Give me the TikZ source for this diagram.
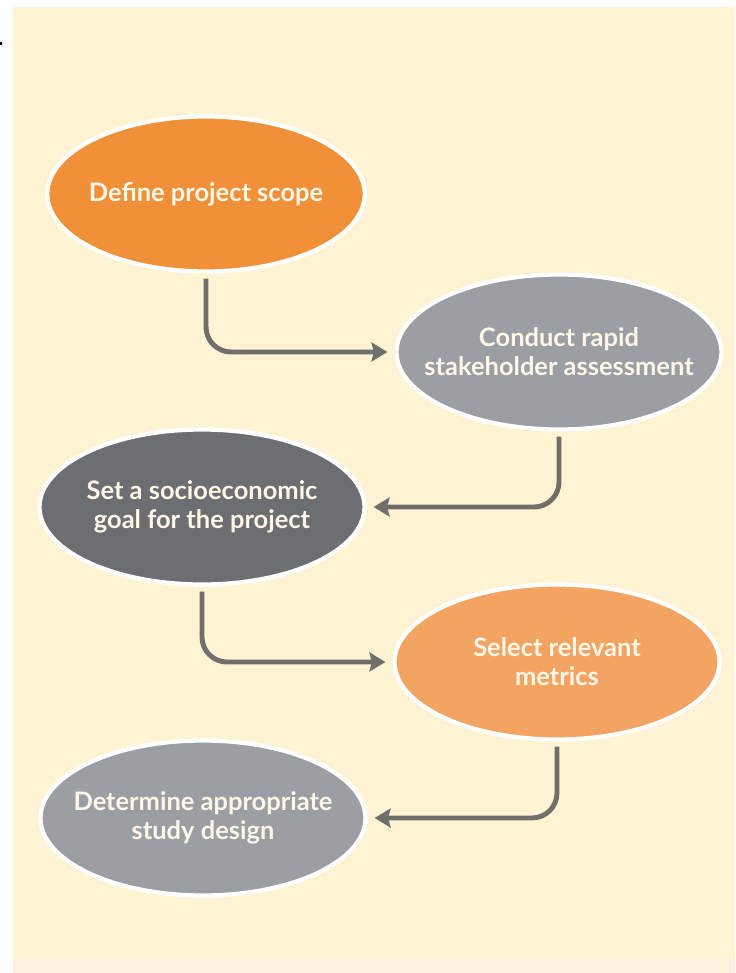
\documentclass[tikz,border=0pt]{standalone}
\usepackage{fontspec}
\setmainfont{Lato}
\usetikzlibrary{arrows.meta,shapes.geometric,positioning}
\definecolor{bgcream}{HTML}{FEF4D4}
\definecolor{bglow}{HTML}{FEF2DF}
\definecolor{orangedark}{HTML}{F09139}
\definecolor{orangelight}{HTML}{F4A462}
\definecolor{greylight}{HTML}{9B9EA2}
\definecolor{greydark}{HTML}{6D6E71}
\definecolor{arrowgrey}{HTML}{706F6C}
\definecolor{textcream}{HTML}{FFF7E8}
\tikzset{stepnode/.style={ellipse, draw=white, line width=2.4pt,
  minimum width=6.5cm, minimum height=3.1cm, inner xsep=-0.7cm, inner ysep=0pt,
  align=center, text=textcream,
  font=\fontsize{14.5}{16.5}\selectfont\bfseries},
flow/.style={draw=arrowgrey, line width=2.8pt, rounded corners=0.5cm,
  shorten <=0.1cm, shorten >=0.14cm,
  -{Stealth[length=0.32cm, width=0.38cm, inset=0.05cm]}}}

\begin{document}
\begin{tikzpicture}[x=0.02cm, y=-0.02cm]
        \useasboundingbox (0,0) rectangle (735,973);
        \fill[bgcream] (13,7) rectangle (735,958);
        \fill[bglow] (13,958) rectangle (735,973);
        \fill[black] (0,42) rectangle (2,45);

        \node[stepnode, fill=orangedark, minimum width=6.35cm] (scope) at (206,194) {Define project scope};
        \node[stepnode, fill=greylight] (stake) at (559,352) {Conduct rapid\\stakeholder assessment};
        \node[stepnode, fill=greydark] (goal) at (202,507) {Set a socioeconomic\\goal for the project};
        \node[stepnode, fill=orangelight] (metrics) at (557,662) {Select relevant\\metrics};
        \node[stepnode, fill=greylight] (design) at (203,818) {Determine appropriate\\study design};

        \draw[flow] (scope) |- (stake);
        \draw[flow] (stake) |- (goal);
        \draw[flow] (goal) |- (metrics);
        \draw[flow] (metrics) |- (design);
    \end{tikzpicture}
\end{document}
